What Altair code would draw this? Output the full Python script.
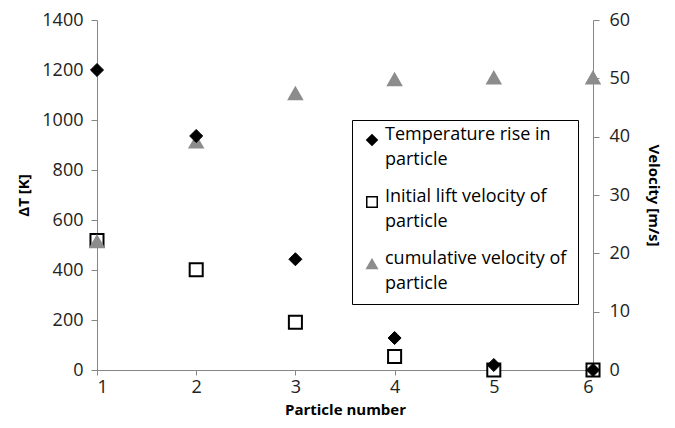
import altair as alt
import pandas as pd

particles = [1, 2, 3, 4, 5, 6]
temp_rise = [1200, 936, 443, 128, 20, 0]          # ΔT [K], left axis
lift_velocity = [22.2, 17.2, 8.2, 2.3, 0.0, 0.0]  # m/s, right axis
cum_velocity = [22.0, 39.1, 47.4, 49.8, 50.1, 50.1]  # m/s, right axis

S_T = "Temperature rise in particle"
S_L = "Initial lift velocity of particle"
S_C = "cumulative velocity of particle"
series = [S_T, S_L, S_C]

df_t = pd.DataFrame({"p": particles, "v": temp_rise, "s": S_T})
df_v = pd.concat([
    pd.DataFrame({"p": particles, "v": lift_velocity, "s": S_L}),
    pd.DataFrame({"p": particles, "v": cum_velocity, "s": S_C}),
])

FONT = "Open Sans"
AXC = "#868686"

label_expr = ("datum.label == '%s' ? ['Temperature rise in', 'particle'] : "
              "datum.label == '%s' ? ['Initial lift velocity of', 'particle'] : "
              "['cumulative velocity of', 'particle']") % (S_T, S_L)

legend = alt.Legend(
    title=None, orient="none", legendX=255, legendY=100,
    strokeColor="black", fillColor="white", padding=11,
    labelFontSize=18, labelFont=FONT, labelColor="black",
    labelExpr=label_expr, labelLimit=300, rowPadding=19, labelOffset=4,
    symbolSize=110, symbolStrokeWidth=1.5, labelBaseline="alphabetic",
)

shape_scale = alt.Scale(domain=series, range=["diamond", "square", "triangle-up"])
fill_scale = alt.Scale(domain=series, range=["black", "white", "#8c8c8c"])
stroke_scale = alt.Scale(domain=series, range=["black", "black", "#8c8c8c"])

x_enc = alt.X("p:Q", scale=alt.Scale(domain=[1, 6], nice=False),
              axis=alt.Axis(title="Particle number", values=particles, format="d",
                            grid=False, tickSize=5, labelPadding=3, titlePadding=6))

def enc(ch_legend):
    return dict(
        shape=alt.Shape("s:N", scale=shape_scale, legend=ch_legend),
        fill=alt.Fill("s:N", scale=fill_scale, legend=ch_legend),
        stroke=alt.Stroke("s:N", scale=stroke_scale, legend=ch_legend),
    )

vel = alt.Chart(df_v).mark_point(size=170, opacity=1, filled=False, strokeWidth=2).encode(
    x=x_enc,
    y=alt.Y("v:Q", scale=alt.Scale(domain=[0, 60], nice=False),
            axis=alt.Axis(title="Velocity [m/s]", orient="right", values=list(range(0, 61, 10)),
                          format="d", grid=False, tickSize=6, labelPadding=10, titlePadding=16)),
    order=alt.Order("s:N"),
    **enc(legend),
)

temp = alt.Chart(df_t).mark_point(size=170, opacity=1, filled=False, strokeWidth=1).encode(
    x=x_enc,
    y=alt.Y("v:Q", scale=alt.Scale(domain=[0, 1400], nice=False),
            axis=alt.Axis(title="ΔT [K]", orient="left", values=list(range(0, 1401, 200)),
                          format="d", grid=False, tickSize=6, labelPadding=8, titlePadding=10)),
    **enc(legend),
)

chart = alt.layer(vel, temp).resolve_scale(y="independent").properties(
    width=496, height=350,
    autosize=alt.AutoSizeParams(type="none"),
    padding={"left": 89, "top": 12, "right": 74, "bottom": 50},
).configure(
    background="white", style={"guide-label": {"lineHeight": 25}},
).configure_view(stroke=None).configure_axis(
    domainColor=AXC, tickColor=AXC, labelColor="#222", titleColor="black",
    labelFont=FONT, titleFont=FONT, labelFontSize=18, titleFontSize=15,
    titleFontWeight="bold",
)

chart.save("out.html", embed_options={"renderer": "svg", "actions": False})
